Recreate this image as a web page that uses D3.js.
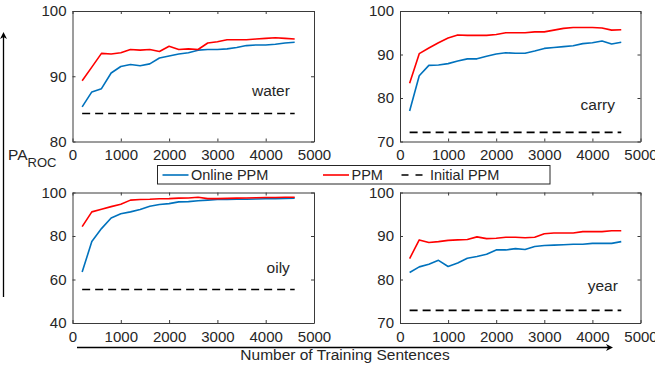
<!DOCTYPE html>
<html>
<head>
<meta charset="utf-8">
<script src="https://cdn.jsdelivr.net/npm/d3@7"></script>
<style>
  body { margin: 0; background: #fff; }
  text { font-family: "Liberation Sans", Arial, sans-serif; fill: #262626; }
</style>
</head>
<body>
<div id="chart"></div>
<script>
(function () {
  'use strict';

  var sentences = [200, 400, 600, 800, 1000, 1200, 1400, 1600, 1800, 2000, 2200, 2400,
    2600, 2800, 3000, 3200, 3400, 3600, 3800, 4000, 4200, 4400, 4600];
  var xTicks = [0, 1000, 2000, 3000, 4000, 5000];

  var waterOnline = [85.3, 87.6, 88.1, 90.5, 91.5, 91.8, 91.6, 91.9, 92.8, 93.1, 93.4, 93.6,
    94.0, 94.1, 94.1, 94.2, 94.4, 94.7, 94.8, 94.8, 94.9, 95.1, 95.2];
  var waterPPM = [89.3, 91.4, 93.5, 93.4, 93.6, 94.1, 94.0, 94.1, 93.8, 94.6, 94.1, 94.2,
    94.1, 95.1, 95.3, 95.6, 95.6, 95.6, 95.7, 95.8, 95.9, 95.8, 95.7];
  var waterInitial = 84.3;
  var waterTicks = [80, 90, 100];

  var carryOnline = [77.0, 85.1, 87.5, 87.6, 87.9, 88.5, 89.0, 89.0, 89.6, 90.1, 90.4, 90.3,
    90.3, 90.8, 91.4, 91.6, 91.8, 92.0, 92.5, 92.7, 93.1, 92.4, 92.8];
  var carryPPM = [83.4, 90.2, 91.5, 92.7, 93.8, 94.5, 94.4, 94.4, 94.4, 94.6, 95.0, 95.0,
    95.0, 95.2, 95.2, 95.6, 96.0, 96.2, 96.2, 96.2, 96.1, 95.6, 95.7];
  var carryInitial = 72.1;
  var carryTicks = [70, 80, 90, 100];

  var oilyOnline = [63.4, 77.5, 83.4, 88.3, 90.2, 91.1, 92.2, 93.7, 94.5, 94.9, 95.7, 95.8,
    96.2, 96.5, 96.8, 96.8, 96.9, 96.9, 97.0, 97.1, 97.2, 97.3, 97.4];
  var oilyPPM = [84.3, 91.1, 92.3, 93.5, 94.6, 96.5, 96.8, 96.9, 97.1, 97.2, 97.4, 97.5,
    97.8, 97.2, 97.2, 97.3, 97.4, 97.5, 97.6, 97.7, 97.7, 97.8, 97.8];
  var oilyInitial = 55.4;
  var oilyTicks = [40, 60, 80, 100];

  var yearOnline = [81.6, 82.9, 83.5, 84.4, 83.0, 83.8, 84.9, 85.3, 85.8, 86.8, 86.8, 87.1,
    86.9, 87.6, 87.8, 87.9, 88.0, 88.1, 88.1, 88.3, 88.3, 88.3, 88.7];
  var yearPPM = [84.8, 89.1, 88.5, 88.7, 89.0, 89.1, 89.2, 89.8, 89.4, 89.5, 89.7, 89.7,
    89.6, 89.7, 90.5, 90.7, 90.7, 90.7, 91.0, 91.0, 91.0, 91.2, 91.2];
  var yearInitial = 72.9;
  var yearTicks = [70, 80, 90, 100];

  var seriesNames = ['Online PPM', 'PPM', 'Initial PPM'];
  var blue = '#0072BD',
    red = '#FF0000',
    axisColor = '#3a3a3a';

  var width = 655,
    height = 366;

  // panel boxes and label spots (label spot in data units)
  var panels = [
    {name: 'water', online: waterOnline, ppm: waterPPM, initial: waterInitial, ticks: waterTicks,
      left: 72.5, top: 11, w: 241.5, h: 130.5, labelX: 4500, labelY: 86.9},
    {name: 'carry', online: carryOnline, ppm: carryPPM, initial: carryInitial, ticks: carryTicks,
      left: 400, top: 11, w: 240.5, h: 130.5, labelX: 4470, labelY: 77.3},
    {name: 'oily', online: oilyOnline, ppm: oilyPPM, initial: oilyInitial, ticks: oilyTicks,
      left: 72.5, top: 192.5, w: 241.5, h: 130.5, labelX: 4500, labelY: 63.0},
    {name: 'year', online: yearOnline, ppm: yearPPM, initial: yearInitial, ticks: yearTicks,
      left: 400, top: 192.5, w: 240.5, h: 130.5, labelX: 4530, labelY: 77.3}
  ];

  var svg = d3.select('#chart')
    .append('svg')
    .attr('width', width)
    .attr('height', height);

  panels.forEach(function (p) {
    var x = d3.scaleLinear().domain([0, 5000]).range([0, p.w]);
    var y = d3.scaleLinear().domain(d3.extent(p.ticks)).range([p.h, 0]);

    var g = svg.append('g')
      .attr('transform', 'translate(' + [p.left, p.top] + ')');

    var line = d3.line()
      .x(function (d, i) { return x(sentences[i]); })
      .y(function (d) { return y(d); });

    g.append('path')
      .datum(sentences.map(function () { return p.initial; }))
      .attr('d', line)
      .attr('fill', 'none')
      .attr('stroke', '#000')
      .attr('stroke-width', 1.6)
      .attr('stroke-dasharray', '8,5');

    g.append('path')
      .datum(p.online)
      .attr('d', line)
      .attr('fill', 'none')
      .attr('stroke', blue)
      .attr('stroke-width', 1.6)
      .attr('stroke-linejoin', 'round');

    g.append('path')
      .datum(p.ppm)
      .attr('d', line)
      .attr('fill', 'none')
      .attr('stroke', red)
      .attr('stroke-width', 1.6)
      .attr('stroke-linejoin', 'round');

    g.append('text')
      .text(p.name)
      .attr('x', x(p.labelX))
      .attr('y', y(p.labelY))
      .attr('text-anchor', 'end')
      .style('font-size', '15.5px');

    var bottom = g.append('g')
      .attr('transform', 'translate(0,' + p.h + ')')
      .call(d3.axisBottom(x).tickValues(xTicks).tickFormat(d3.format('d'))
        .tickSizeInner(-3).tickSizeOuter(0).tickPadding(8));
    var left = g.append('g')
      .call(d3.axisLeft(y).tickValues(p.ticks).tickFormat(d3.format('d'))
        .tickSizeInner(-3).tickSizeOuter(0).tickPadding(6));
    var top = g.append('g')
      .call(d3.axisTop(x).tickValues(xTicks).tickSizeInner(-3).tickSizeOuter(0).tickFormat(''));
    var right = g.append('g')
      .attr('transform', 'translate(' + p.w + ',0)')
      .call(d3.axisRight(y).tickValues(p.ticks).tickSizeInner(-3).tickSizeOuter(0).tickFormat(''));

    [bottom, left, top, right].forEach(function (a) {
      a.selectAll('path, line').attr('stroke', axisColor);
      a.selectAll('text')
        .style('font-size', '15px')
        .style('font-family', '"Liberation Sans", Arial, sans-serif')
        .attr('fill', '#262626');
    });
  });

  // legend
  var legend = svg.append('g')
    .attr('transform', 'translate(157.5,165.5)');

  legend.append('rect')
    .attr('width', 392.5)
    .attr('height', 18.5)
    .attr('fill', '#fff')
    .attr('stroke', '#262626');

  var legendItems = [
    {label: seriesNames[0], color: blue, dash: null, x: 5},
    {label: seriesNames[1], color: red, dash: null, x: 165.5},
    {label: seriesNames[2], color: '#000', dash: '7,7', x: 244}
  ];

  var item = legend.selectAll('.item')
    .data(legendItems)
    .enter()
    .append('g')
    .attr('class', 'item')
    .attr('transform', function (d) { return 'translate(' + [d.x, 9.5] + ')'; });

  item.append('line')
    .attr('x1', 0)
    .attr('x2', 26)
    .attr('stroke', function (d) { return d.color; })
    .attr('stroke-width', 1.6)
    .attr('stroke-dasharray', function (d) { return d.dash; });

  item.append('text')
    .text(function (d) { return d.label; })
    .attr('x', 28.5)
    .attr('y', 5)
    .style('font-size', '14.5px');

  // y label with arrow
  svg.append('line')
    .attr('x1', 3.5).attr('x2', 3.5)
    .attr('y1', 297).attr('y2', 36)
    .attr('stroke', '#000')
    .attr('stroke-width', 1.3);
  svg.append('path')
    .attr('d', 'M3.5,32 L7,39 L3.5,37 L0,39 Z')
    .attr('fill', '#000');

  var yLabel = svg.append('text')
    .attr('x', 8)
    .attr('y', 160)
    .style('font-size', '15.5px');
  yLabel.append('tspan').text('PA');
  yLabel.append('tspan')
    .text('ROC')
    .attr('dy', 7)
    .style('font-size', '13px');

  // x label with arrow
  svg.append('line')
    .attr('x1', 77).attr('x2', 609)
    .attr('y1', 347.5).attr('y2', 347.5)
    .attr('stroke', '#000')
    .attr('stroke-width', 1.3);
  svg.append('path')
    .attr('d', 'M613,347.5 L606,344 L608,347.5 L606,351 Z')
    .attr('fill', '#000');

  svg.append('text')
    .text('Number of Training Sentences')
    .attr('x', 345)
    .attr('y', 360)
    .attr('text-anchor', 'middle')
    .style('font-size', '15.5px');
}());
</script>
</body>
</html>
